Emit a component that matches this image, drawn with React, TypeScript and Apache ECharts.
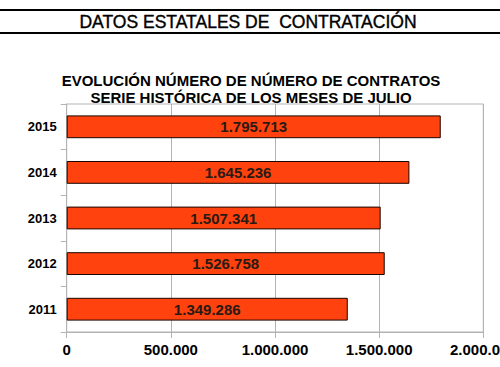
import React, { useEffect, useRef } from "react";
import * as echarts from "echarts";

const categories = ["2011", "2012", "2013", "2014", "2015"];
const contratos = [1349286, 1526758, 1507341, 1645236, 1795713];
const xTicks = [0, 500000, 1000000, 1500000, 2000000];

const mainTitle = "DATOS ESTATALES DE  CONTRATACIÓN";
const subTitle1 = "EVOLUCIÓN NÚMERO DE NÚMERO DE CONTRATOS";
const subTitle2 = "SERIE HISTÓRICA DE LOS MESES DE JULIO";

const fmt = (v: number) =>
  String(Math.round(v)).replace(/\B(?=(\d{3})+(?!\d))/g, ".");

const FONT = "'Liberation Sans', Arial, sans-serif";

export default function App() {
  const ref = useRef<HTMLDivElement>(null);
  useEffect(() => {
    if (!ref.current) return;
    const chart = echarts.init(ref.current, null, { renderer: "svg" });
    chart.setOption({
      animation: false,
      backgroundColor: "#ffffff",
      textStyle: { fontFamily: FONT },
      graphic: [
        { type: "line", shape: { x1: 0, y1: 10, x2: 500, y2: 10 }, style: { stroke: "#000", lineWidth: 2 } },
        { type: "line", shape: { x1: 0, y1: 33, x2: 500, y2: 33 }, style: { stroke: "#000", lineWidth: 2 } },
        {
          type: "text",
          x: 248,
          y: 22,
          style: {
            text: mainTitle,
            fontFamily: FONT,
            fontSize: 17.5,
            fontWeight: "normal",
            fill: "#000",
            stroke: "#000",
            lineWidth: 0.4,
            align: "center",
            verticalAlign: "middle",
          },
        },
        {
          type: "text",
          x: 251,
          y: 80,
          style: {
            text: subTitle1,
            fontFamily: FONT,
            fontSize: 15,
            fontWeight: "bold",
            fill: "#000",
            align: "center",
            verticalAlign: "middle",
          },
        },
        {
          type: "text",
          x: 251,
          y: 97,
          style: {
            text: subTitle2,
            fontFamily: FONT,
            fontSize: 15,
            fontWeight: "bold",
            fill: "#000",
            align: "center",
            verticalAlign: "middle",
          },
        },
      ],
      grid: {
        left: 66.7,
        right: 16.7,
        top: 104,
        bottom: 35,
        show: true,
        borderColor: "#b3b3b3",
        borderWidth: 1,
        containLabel: false,
        outerBoundsMode: "none",
      },
      xAxis: {
        type: "value",
        min: xTicks[0],
        max: xTicks[xTicks.length - 1],
        interval: xTicks[1] - xTicks[0],
        axisLine: { show: true, lineStyle: { color: "#b3b3b3" } },
        axisTick: { show: true, length: 6, lineStyle: { color: "#b3b3b3" } },
        splitLine: { show: true, lineStyle: { color: "#b3b3b3" } },
        axisLabel: {
          formatter: (v: number) => fmt(v),
          fontFamily: FONT,
          fontSize: 15,
          fontWeight: "bold",
          color: "#000",
          margin: 10,
          hideOverlap: false,
          showMaxLabel: true,
        },
      },
      yAxis: {
        type: "category",
        data: categories,
        axisLine: { show: true, lineStyle: { color: "#b3b3b3" } },
        axisTick: { show: true, length: 6, lineStyle: { color: "#b3b3b3" } },
        splitLine: { show: false },
        axisLabel: {
          fontFamily: FONT,
          fontSize: 13,
          fontWeight: "bold",
          color: "#000",
          margin: 10,
        },
      },
      series: [
        {
          type: "bar",
          data: contratos,
          barWidth: "50%",
          itemStyle: { color: "#ff420e", borderColor: "#1a0500", borderWidth: 1 },
          label: {
            show: true,
            position: "inside",
            formatter: (p: any) => fmt(p.value),
            fontFamily: FONT,
            fontSize: 15,
            fontWeight: "bold",
            color: "#2a1a14",
          },
        },
      ],
    });
    return () => chart.dispose();
  }, []);
  return (
    <div
      ref={ref}
      style={{ position: "absolute", left: 0, top: 0, width: 500, height: 367 }}
    />
  );
}
